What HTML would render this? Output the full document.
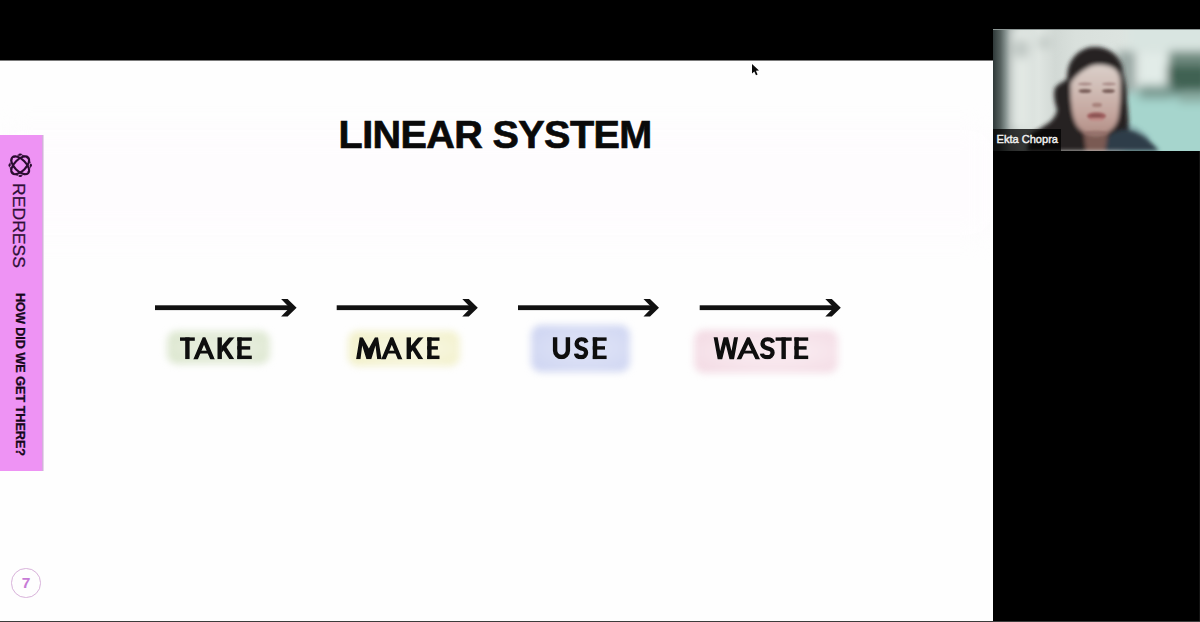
<!DOCTYPE html>
<html><head><meta charset="utf-8">
<style>
html,body{margin:0;padding:0;width:1200px;height:622px;overflow:hidden;background:#000;}
body{position:relative;font-family:"Liberation Sans",sans-serif;}
.abs{position:absolute;}
#slide{left:0;top:60px;width:993px;height:561px;background:#fefefe;overflow:hidden;}
#bottomline{left:0;top:621px;width:1200px;height:1px;background:#3c3c3c;}
#side{left:0;top:135px;width:44px;height:336px;background:linear-gradient(to right,#ee93f4 0,#ee93f4 42px,#cca2d4 42px,#dcc0e2 43px,#f4e8f6 44px);}
#title{left:338.6px;top:54.6px;font-weight:bold;font-size:39.6px;letter-spacing:-0.62px;color:#0a0a0a;-webkit-text-stroke:0.7px #0a0a0a;white-space:nowrap;line-height:1;}
.lbl{position:absolute;font-weight:bold;font-size:32px;color:#0c0c0c;white-space:nowrap;line-height:1;transform-origin:0 0;}
.hl{position:absolute;border-radius:10px;filter:blur(3.5px);}
#webcam{left:993px;top:29px;width:207px;height:122px;overflow:hidden;background:#cfd6d3;}
.rot{position:absolute;white-space:nowrap;line-height:1;transform-origin:0 0;transform:rotate(90deg);}
#redress{left:0;top:0;font-size:16px;letter-spacing:0;color:#2e0f36;transform:rotate(90deg) scaleX(1.1);-webkit-text-stroke:0.25px #2e0f36;}
#how{left:0;top:0;font-size:12.6px;font-weight:bold;color:#16081a;-webkit-text-stroke:0.3px #16081a;}
#pnum{left:11.4px;top:568.3px;width:27.4px;height:27.4px;border:1.7px solid #d8b2da;border-radius:50%;}
#pnum span{position:absolute;left:0;top:0;width:100%;text-align:center;font-weight:bold;font-size:15.5px;line-height:27.6px;color:#c77bd6;}
</style></head>
<body>
<div id="slide" class="abs">
  <div class="abs" style="left:0;top:70px;width:993px;height:105px;background:#fefcfe;filter:blur(14px);"></div>
  <div id="title" class="abs">LINEAR SYSTEM</div>
</div>
<div class="hl" style="left:167px;top:331px;width:103px;height:33px;background:radial-gradient(ellipse at 55% 50%,#e6eddc 35%,#d9e5cb 100%);"></div>
<div class="hl" style="left:348px;top:331px;width:112px;height:35px;background:radial-gradient(ellipse at 55% 50%,#f6f5dc 35%,#f1efc4 100%);"></div>
<div class="hl" style="left:531px;top:325px;width:99px;height:47px;background:radial-gradient(ellipse at 55% 50%,#dadff5 35%,#ccd3f1 100%);"></div>
<div class="hl" style="left:694px;top:330px;width:144px;height:43px;background:radial-gradient(ellipse at 55% 50%,#f8e8ee 35%,#f2d8e2 100%);"></div>
<svg class="abs" style="left:0;top:0" width="1200" height="622"><defs><clipPath id="capclip"><rect x="0" y="337.2" width="1200" height="22.0"/></clipPath><clipPath id="clipK217"><rect x="221.60" y="337.2" width="40" height="22.0"/></clipPath><clipPath id="clipK406"><rect x="410.70" y="337.2" width="40" height="22.0"/></clipPath></defs><g fill="#0e0e0e" clip-path="url(#capclip)"><rect x="180.00" y="337.20" width="14.80" height="3.60"/><rect x="185.20" y="337.20" width="4.40" height="22.00"/><polyline fill="none" stroke="#0e0e0e" stroke-width="4.15" stroke-linejoin="miter" stroke-miterlimit="10" points="192.85,365.80 204.05,339.45 215.25,365.80"/><rect x="197.40" y="350.70" width="13.30" height="2.80"/><rect x="217.50" y="337.20" width="4.40" height="22.00"/><g clip-path="url(#clipK217)"><polyline fill="none" stroke="#0e0e0e" stroke-width="4.15" stroke-linejoin="miter" stroke-miterlimit="10" points="219.70,351.80 235.75,332.60"/><polyline fill="none" stroke="#0e0e0e" stroke-width="4.15" stroke-linejoin="miter" stroke-miterlimit="10" points="224.30,347.60 235.06,364.24"/></g><rect x="237.30" y="337.20" width="4.40" height="22.00"/><rect x="237.30" y="337.20" width="14.50" height="3.60"/><rect x="237.30" y="346.20" width="12.90" height="3.42"/><rect x="237.30" y="355.60" width="14.50" height="3.60"/><polygon points="356.10,359.20 359.70,337.20 362.70,337.20 368.85,348.40 375.00,337.20 378.00,337.20 381.60,359.20 377.20,359.20 375.50,345.40 371.25,359.20 366.45,359.20 362.20,345.40 360.50,359.20"/><polyline fill="none" stroke="#0e0e0e" stroke-width="4.15" stroke-linejoin="miter" stroke-miterlimit="10" points="380.79,365.80 391.80,339.47 402.81,365.80"/><rect x="385.30" y="350.70" width="13.00" height="2.80"/><rect x="406.60" y="337.20" width="4.40" height="22.00"/><g clip-path="url(#clipK406)"><polyline fill="none" stroke="#0e0e0e" stroke-width="4.15" stroke-linejoin="miter" stroke-miterlimit="10" points="408.80,351.80 424.73,332.58"/><polyline fill="none" stroke="#0e0e0e" stroke-width="4.15" stroke-linejoin="miter" stroke-miterlimit="10" points="413.40,347.60 424.03,364.26"/></g><rect x="427.20" y="337.20" width="4.40" height="22.00"/><rect x="427.20" y="337.20" width="12.30" height="3.60"/><rect x="427.20" y="346.20" width="10.70" height="3.42"/><rect x="427.20" y="355.60" width="12.30" height="3.60"/><path d="M555.10,336.20 L555.10,350.60 A6.40,6.40 0 0 0 567.90,350.60 L567.90,336.20" fill="none" stroke="#0e0e0e" stroke-width="4.4"/><path d="M586.45,342.60 C585.25,339.15 583.85,339.15 581.35,339.15 C578.85,339.15 576.65,341.45 576.65,343.65 C576.65,347.00 578.85,347.60 581.35,348.40 C586.15,349.50 586.05,351.40 586.05,352.75 C586.05,355.25 583.85,357.25 581.35,357.25 C578.35,357.25 576.25,355.75 576.05,353.60" fill="none" stroke="#0e0e0e" stroke-width="4.3"/><rect x="592.80" y="337.20" width="4.40" height="22.00"/><rect x="592.80" y="337.20" width="13.80" height="3.60"/><rect x="592.80" y="346.20" width="12.20" height="3.42"/><rect x="592.80" y="355.60" width="13.80" height="3.60"/><polyline fill="none" stroke="#0e0e0e" stroke-width="3.95" stroke-linejoin="miter" stroke-miterlimit="10" points="714.90,333.20 719.89,360.40 725.85,336.40 731.81,360.40 736.80,333.20"/><polyline fill="none" stroke="#0e0e0e" stroke-width="4.15" stroke-linejoin="miter" stroke-miterlimit="10" points="735.89,365.80 748.35,339.31 760.81,365.80"/><rect x="740.70" y="350.70" width="15.30" height="2.80"/><path d="M772.95,342.60 C771.75,339.15 770.05,339.15 767.55,339.15 C764.75,339.15 762.55,341.45 762.55,343.65 C762.55,347.00 765.05,347.60 767.55,348.40 C772.65,349.50 772.55,351.40 772.55,352.75 C772.55,355.25 770.05,357.25 767.55,357.25 C764.55,357.25 762.15,355.75 761.95,353.60" fill="none" stroke="#0e0e0e" stroke-width="4.3"/><rect x="775.60" y="337.20" width="16.10" height="3.60"/><rect x="781.45" y="337.20" width="4.40" height="22.00"/><rect x="794.40" y="337.20" width="4.40" height="22.00"/><rect x="794.40" y="337.20" width="13.80" height="3.60"/><rect x="794.40" y="346.20" width="12.20" height="3.42"/><rect x="794.40" y="355.60" width="13.80" height="3.60"/></g></svg>
<div id="side" class="abs"></div>
<svg class="abs" style="left:0;top:0" width="43" height="200" viewBox="0 0 43 200">
<g fill="none" stroke="#2a0c30">
<circle cx="20.2" cy="165.3" r="10.2" stroke-width="1.3" stroke-dasharray="3 1.5" opacity="0.8"/>
<ellipse cx="20.2" cy="165.3" rx="11.2" ry="5.8" transform="rotate(45 20.2 165.3)" stroke-width="2.1"/>
<ellipse cx="20.2" cy="165.3" rx="11.2" ry="5.8" transform="rotate(-45 20.2 165.3)" stroke-width="2.1"/>
</g>
<g fill="#2a0c30">
<ellipse cx="20.2" cy="154.6" rx="1.8" ry="1"/><ellipse cx="20.2" cy="176" rx="1.8" ry="1"/>
<ellipse cx="9.5" cy="165.3" rx="1" ry="1.8"/><ellipse cx="30.9" cy="165.3" rx="1" ry="1.8"/>
</g>
</svg>
<div id="redress" class="rot" style="left:26px;top:183px;">REDRESS</div>
<div id="how" class="rot" style="left:25.8px;top:292.5px;">HOW DID WE GET THERE?</div>
<div id="pnum" class="abs"><span>7</span></div>
<svg class="abs" style="left:0;top:0" width="1200" height="622">
<rect x="155" y="305.3" width="136.60000000000002" height="4.8" fill="#111"/>
<polygon fill="#111" points="281.1,299.0 287.6,299.0 296.6,307.7 287.6,316.4 281.1,316.4 289.6,307.7"/>
<rect x="336.7" y="305.3" width="136.10000000000002" height="4.8" fill="#111"/>
<polygon fill="#111" points="462.3,299.0 468.8,299.0 477.8,307.7 468.8,316.4 462.3,316.4 470.8,307.7"/>
<rect x="518" y="305.3" width="136" height="4.8" fill="#111"/>
<polygon fill="#111" points="643.5,299.0 650.0,299.0 659.0,307.7 650.0,316.4 643.5,316.4 652.0,307.7"/>
<rect x="699.7" y="305.3" width="136.0999999999999" height="4.8" fill="#111"/>
<polygon fill="#111" points="825.3,299.0 831.8,299.0 840.8,307.7 831.8,316.4 825.3,316.4 833.8,307.7"/>
<path d="M752,64 L752,73.5 L754.3,71.4 L756,75.2 L757.6,74.5 L755.9,70.8 L759,70.6 Z" fill="#0a0a0a"/>
</svg>
<div id="webcam" class="abs"><svg width="207" height="122" viewBox="0 0 207 122">
<defs>
<filter id="wb6" x="-50%" y="-50%" width="200%" height="200%"><feGaussianBlur stdDeviation="5"/></filter>
<filter id="wb3" x="-50%" y="-50%" width="200%" height="200%"><feGaussianBlur stdDeviation="3"/></filter>
<filter id="wb2" x="-50%" y="-50%" width="200%" height="200%"><feGaussianBlur stdDeviation="2"/></filter>
<filter id="wb1" x="-50%" y="-50%" width="200%" height="200%"><feGaussianBlur stdDeviation="0.9"/></filter>
<linearGradient id="wlg" x1="0" x2="1" y1="0" y2="0">
<stop offset="0" stop-color="#2e3838"/><stop offset="0.035" stop-color="#55605e"/><stop offset="0.065" stop-color="#8a9694"/><stop offset="0.085" stop-color="#b0b8b5"/><stop offset="0.13" stop-color="#d0d8d4"/><stop offset="0.22" stop-color="#dfe5e1"/><stop offset="0.3" stop-color="#d2d9d5"/><stop offset="0.4" stop-color="#d9e0dc"/><stop offset="0.65" stop-color="#dde4e0"/><stop offset="1" stop-color="#d6e2de"/>
</linearGradient>
<linearGradient id="wface" x1="0" x2="0" y1="0" y2="1">
<stop offset="0" stop-color="#dbd0ca"/><stop offset="0.35" stop-color="#d0bcb5"/><stop offset="0.7" stop-color="#c4a69e"/><stop offset="1" stop-color="#b28e86"/>
</linearGradient>
</defs>
<rect width="207" height="122" fill="url(#wlg)"/>
<g filter="url(#wb6)">
<rect x="136" y="-10" width="80" height="32" fill="#d9e5e1"/>
<rect x="130" y="62" width="90" height="70" fill="#a6d5cd"/>
<rect x="147" y="24" width="27" height="34" fill="#e2ece8"/>
<rect x="124" y="22" width="18" height="42" fill="#9aa8a4"/>
<rect x="176" y="22" width="40" height="18" fill="#6f8a7f"/>
<rect x="174" y="36" width="42" height="30" fill="#3f6252"/>
<rect x="146" y="56" width="34" height="14" fill="#7e9d94"/>
<rect x="185" y="62" width="30" height="12" fill="#8aaca2"/>
<rect x="20" y="0" width="18" height="100" fill="#e2e8e4"/>
<ellipse cx="28" cy="20" rx="8" ry="10" fill="#c0c8c4"/>
<ellipse cx="52" cy="14" rx="8" ry="6" fill="#c4ccc8"/>
</g>
<g filter="url(#wb2)">
<path d="M101,18 C110,18 117,21 121,26 C126,32 129,38 130,44 C132,52 134,60 134,70 C135,82 136,92 136,102 L140,122 L34,122 L37,106 C42,102 50,98 57,93 C62,88 64,84 64,80 C62,74 60,66 62,59 C66,54 72,52 74,50 C74,44 75,38 77,34 C82,24 92,18 101,18 Z" fill="#252223"/>
<path d="M116,106 C124,101 132,100 138,101 C148,104 158,112 166,122 L110,122 Z" fill="#2e3c48"/>
<path d="M90,98 L116,98 L112,122 L93,122 Z" fill="#7a5a52"/>
<path d="M78,50 C79,40 92,35 104,35 C117,35 126,40 127,50 C128,62 127,80 125,90 C122,101 113,106 103,106 C93,106 84,101 81,90 C78,80 77,62 78,50 Z" fill="url(#wface)"/>
<path d="M76,58 C80,48 88,42 98,37 C108,34 118,36 128,43 L130,40 C127,26 116,18 101,18 C88,19 79,27 76,40 Z" fill="#252223"/>
<path d="M134,96 C142,98 150,104 156,110" stroke="#4a6070" stroke-width="2" fill="none" opacity="0.6"/>
</g>
<g filter="url(#wb1)">
<ellipse cx="92" cy="55" rx="7" ry="1.4" fill="#a88a86"/>
<ellipse cx="116" cy="55" rx="7" ry="1.4" fill="#a88a86"/>
<ellipse cx="92" cy="62" rx="6.5" ry="2" fill="#7a5e5a"/>
<ellipse cx="115.5" cy="62" rx="6.5" ry="2" fill="#7a5e5a"/>
<ellipse cx="104" cy="76" rx="5" ry="2.2" fill="#a8827c"/>
<ellipse cx="103.5" cy="87" rx="9.5" ry="3.8" fill="#a06060"/>
<ellipse cx="103" cy="86.8" rx="6" ry="1.8" fill="#8a5452"/>
<ellipse cx="103.5" cy="90.5" rx="7.5" ry="1.6" fill="#c08a86"/>
<ellipse cx="103" cy="104" rx="12" ry="2.5" fill="#8a6660" opacity="0.6"/>
</g>
<rect x="0" y="100" width="68" height="22" fill="#000" opacity="0.76"/>
<text x="3.5" y="114" font-family="Liberation Sans" font-weight="normal" font-size="11.8" textLength="61.5" lengthAdjust="spacingAndGlyphs" fill="#f0f0f0" stroke="#f0f0f0" stroke-width="0.45">Ekta Chopra</text>
<rect x="0" y="0" width="207" height="1" fill="#8e9896"/>
</svg>
</div>
<div id="bottomline" class="abs"></div>
<div class="abs" style="left:1199px;top:151px;width:1px;height:470px;background:#121212;"></div>
<div class="abs" style="left:0;top:60px;width:993px;height:1px;background:#7a7a7a;"></div>
</body></html>
